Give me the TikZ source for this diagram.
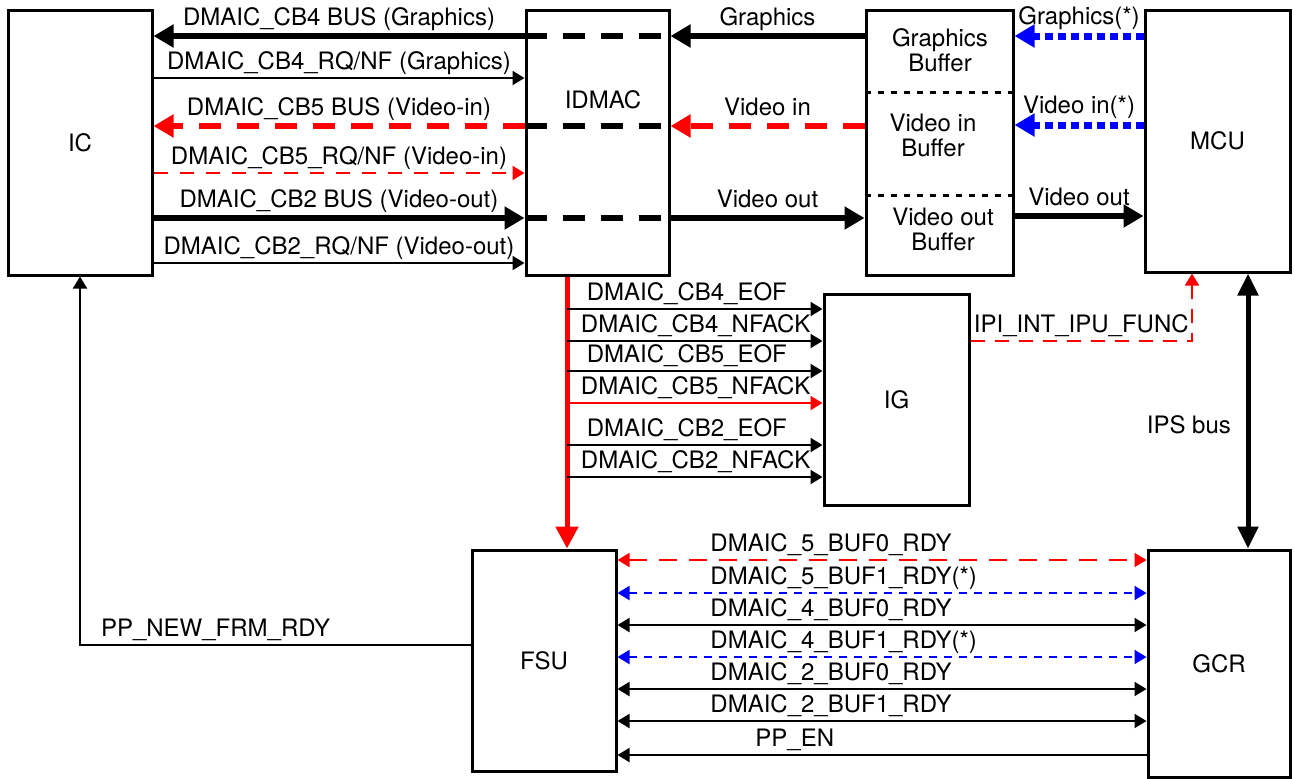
\documentclass[tikz,border=0pt]{standalone}
\usepackage{fontspec}
\setmainfont{TeX Gyre Heros}
\usetikzlibrary{arrows.meta}

\begin{document}
\begin{tikzpicture}[
   x=0.5pt,y=-0.5pt,
   font=\fontsize{12}{12.5}\selectfont,
   box/.style={draw,line width=1.5pt,inner sep=0pt,align=center},
   lbl/.style={above,inner sep=1pt,text height=9pt,text depth=3pt},
   sig/.style={line width=1pt,-{Triangle[length=6pt,width=7pt]}},
   sigboth/.style={line width=1pt,{Triangle[length=6pt,width=7pt]}-{Triangle[length=6pt,width=7pt]}},
   bus/.style={line width=3pt,-{Triangle[length=10pt,width=11pt]}},
   thru/.style={line width=3pt,dash pattern=on 11pt off 8pt},
   divider/.style={line width=1.5pt,dash pattern=on 3pt off 3.5pt},
]
\useasboundingbox (0,0) rectangle (1294,778);

\node[box,minimum width=72pt,minimum height=132.5pt] (ic) at (80,142.5) {IC};
\node[box,minimum width=71.5pt,minimum height=132.5pt] (idmac) at (597.5,142.5) {};
\node (idmaclbl) at (603,100) {IDMAC};
\node[box,minimum width=73.5pt,minimum height=132.5pt] (buf) at (939.5,142.5) {};
\node[align=center] (gbuf) at (940,50) {Graphics\\Buffer};
\node[align=center] (vibuf) at (933,135) {Video in\\Buffer};
\node[align=center] (vobuf) at (943,229) {Video out\\Buffer};
\node[box,minimum width=72.5pt,minimum height=131pt] (mcu) at (1217.5,141) {MCU};
\node[box,minimum width=72.5pt,minimum height=105.5pt] (ig) at (896.5,399.5) {IG};
\node[box,minimum width=72pt,minimum height=110.5pt] (fsu) at (544,660.5) {FSU};
\node[box,minimum width=71pt,minimum height=113.5pt] (gcr) at (1219,663.5) {GCR};

\draw[divider] (buf.west |- 0,92) -- (buf.east |- 0,92);
\draw[divider] (buf.west |- 0,195) -- (buf.east |- 0,195);

\draw[bus] (idmac.west |- 0,36) -- node[lbl] {DMAIC\_CB4 BUS (Graphics)} (ic.east |- 0,36);
\draw[thru] (idmac.west |- 0,36) -- (idmac.east |- 0,36);
\draw[bus] (buf.west |- 0,36) -- node[lbl] {Graphics} (idmac.east |- 0,36);
\draw[sig] (ic.east |- 0,78) -- node[lbl] {DMAIC\_CB4\_RQ/NF (Graphics)} (idmac.west |- 0,78);
\draw[bus,red,dash pattern=on 11pt off 8pt] (idmac.west |- 0,126) -- node[lbl,black] {DMAIC\_CB5 BUS (Video-in)} (ic.east |- 0,126);
\draw[thru] (idmac.west |- 0,126) -- (idmac.east |- 0,126);
\draw[bus,red,dash pattern=on 11pt off 8pt] (buf.west |- 0,126) -- node[lbl,black] {Video in} (idmac.east |- 0,126);
\draw[sig,red,dash pattern=on 7pt off 6pt] (ic.east |- 0,173) -- node[lbl,black] {DMAIC\_CB5\_RQ/NF (Video-in)} (idmac.west |- 0,173);
\draw[bus] (ic.east |- 0,218) -- node[lbl] {DMAIC\_CB2 BUS (Video-out)} (idmac.west |- 0,218);
\draw[thru] (idmac.west |- 0,218) -- (idmac.east |- 0,218);
\draw[bus] (idmac.east |- 0,218) -- node[lbl] {Video out} (buf.west |- 0,218);
\draw[sig] (ic.east |- 0,263) -- node[lbl] {DMAIC\_CB2\_RQ/NF (Video-out)} (idmac.west |- 0,263);

\draw[bus,blue,line width=3.5pt,dash pattern=on 4pt off 2.5pt] (mcu.west |- 0,36) -- node[lbl,black] {Graphics(*)} (buf.east |- 0,36);
\draw[bus,blue,line width=3.5pt,dash pattern=on 4pt off 2.5pt] (mcu.west |- 0,125) -- node[lbl,black] {Video in(*)} (buf.east |- 0,125);
\draw[bus] (buf.east |- 0,216) -- node[lbl] {Video out} (mcu.west |- 0,216);

\draw[red,line width=2.5pt,-{Triangle[length=11pt,width=11pt]}] (567,0 |- idmac.south) -- (567,0 |- fsu.north);
\draw[sig] (567,309) -- node[lbl,anchor=south west,pos=0.066] {DMAIC\_CB4\_EOF} (ig.west |- 0,309);
\draw[sig] (567,341) -- node[lbl,anchor=south west,pos=0.043] {DMAIC\_CB4\_NFACK} (ig.west |- 0,341);
\draw[sig] (567,371) -- node[lbl,anchor=south west,pos=0.066] {DMAIC\_CB5\_EOF} (ig.west |- 0,371);
\draw[sig,red] (567,403) -- node[lbl,black,anchor=south west,pos=0.043] {DMAIC\_CB5\_NFACK} (ig.west |- 0,403);
\draw[sig] (567,445) -- node[lbl,anchor=south west,pos=0.066] {DMAIC\_CB2\_EOF} (ig.west |- 0,445);
\draw[sig] (567,477) -- node[lbl,anchor=south west,pos=0.043] {DMAIC\_CB2\_NFACK} (ig.west |- 0,477);

\draw[sig,red,dash pattern=on 7pt off 5pt] (ig.east |- 0,341) -| node[lbl,black,pos=0.25] {IPI\_INT\_IPU\_FUNC} (1192,0 |- mcu.south);
\draw[line width=2.5pt,{Triangle[length=11pt,width=10pt]}-{Triangle[length=11pt,width=10pt]}] (1248,0 |- mcu.south) -- (1248,0 |- gcr.north);
\node[anchor=east] (ipslbl) at (1238,425) {IPS bus};

\draw[sig] (fsu.west |- 0,645) -| node[pos=0.5,anchor=south west,xshift=9pt,inner sep=1pt,text height=9pt,text depth=3pt] {PP\_NEW\_FRM\_RDY} (ic.south);

\draw[sigboth,red,dash pattern=on 9pt off 6pt] (fsu.east |- 0,560) -- node[lbl,black,anchor=south west,pos=0.17] {DMAIC\_5\_BUF0\_RDY} (gcr.west |- 0,560);
\draw[sigboth,blue,dash pattern=on 4pt off 3.5pt] (fsu.east |- 0,593) -- node[lbl,black,anchor=south west,pos=0.17] {DMAIC\_5\_BUF1\_RDY(*)} (gcr.west |- 0,593);
\draw[sigboth] (fsu.east |- 0,625) -- node[lbl,anchor=south west,pos=0.17] {DMAIC\_4\_BUF0\_RDY} (gcr.west |- 0,625);
\draw[sigboth,blue,dash pattern=on 4pt off 3.5pt] (fsu.east |- 0,657) -- node[lbl,black,anchor=south west,pos=0.17] {DMAIC\_4\_BUF1\_RDY(*)} (gcr.west |- 0,657);
\draw[sigboth] (fsu.east |- 0,689) -- node[lbl,anchor=south west,pos=0.17] {DMAIC\_2\_BUF0\_RDY} (gcr.west |- 0,689);
\draw[sigboth] (fsu.east |- 0,721) -- node[lbl,anchor=south west,pos=0.17] {DMAIC\_2\_BUF1\_RDY} (gcr.west |- 0,721);
\draw[sig] (gcr.west |- 0,755) -- node[lbl,anchor=south west,pos=0.745] {PP\_EN} (fsu.east |- 0,755);
\end{tikzpicture}
\end{document}
